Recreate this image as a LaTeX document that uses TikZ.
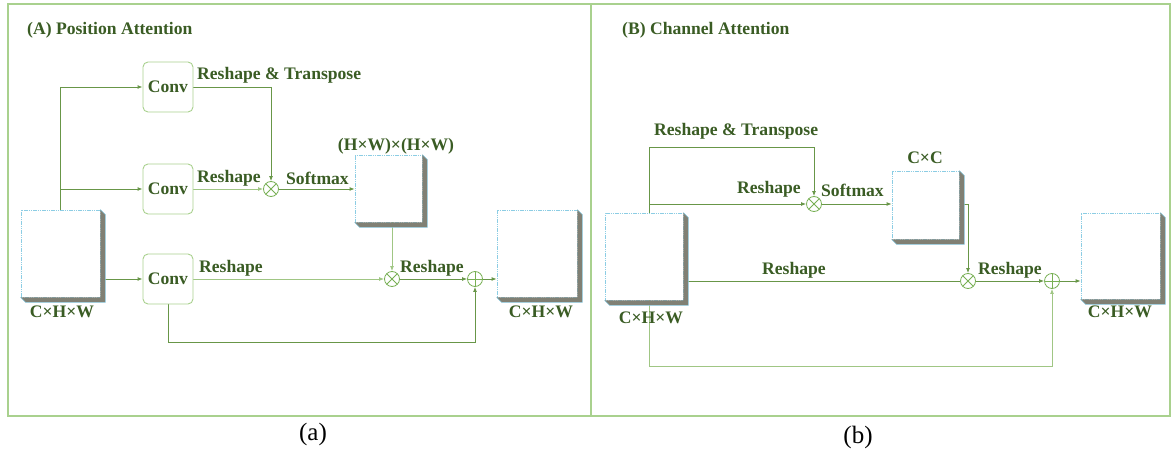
\documentclass[tikz,border=0pt]{standalone}
\usepackage{fontspec}
\setmainfont{Liberation Serif}
\usetikzlibrary{arrows.meta}
\definecolor{txtc}{RGB}{58,92,36}
\definecolor{framec}{RGB}{169,209,142}
\definecolor{linec}{RGB}{104,150,72}
\definecolor{lightc}{RGB}{160,198,132}
\definecolor{opc}{RGB}{120,176,84}
\definecolor{edgec}{RGB}{140,205,228}
\definecolor{shadowc}{RGB}{128,128,116}
\pgfdeclarelayer{bg}
\pgfsetlayers{bg,main}
\tikzset{
  lbl/.style={text=txtc, font=\bfseries\fontsize{17.6}{20}\selectfont, inner sep=0pt},
  subcap/.style={text=black, font=\fontsize{25}{28}\selectfont, inner sep=0pt},
  conv/.style={draw=framec, line width=0.9pt, rounded corners=5pt, fill=white,
    minimum width=50pt, minimum height=50pt, inner sep=0pt, text=txtc,
    font=\bfseries\fontsize{17.6}{20}\selectfont},
  fmap/.style={draw=edgec, dash pattern=on 1.2pt off 0.6pt, line width=0.8pt, fill=white, inner sep=0pt},
  conn/.style={draw=linec, line width=0.9pt},
  connl/.style={draw=lightc, line width=0.9pt},
  arr/.style={-{Latex[length=5pt,width=4pt]}},
  otimes/.style={circle, draw=opc, line width=0.8pt, fill=white, minimum size=15pt, inner sep=0pt,
    path picture={\draw[opc, line width=0.8pt]
      (path picture bounding box.north west) -- (path picture bounding box.south east)
      (path picture bounding box.north east) -- (path picture bounding box.south west);}},
  oplus/.style={circle, draw=opc, line width=0.8pt, fill=white, minimum size=15pt, inner sep=0pt,
    path picture={\draw[opc, line width=0.8pt]
      (path picture bounding box.north) -- (path picture bounding box.south)
      (path picture bounding box.east) -- (path picture bounding box.west);}},
}
% feature map with an extruded shadow on its right and lower side
\newcommand\featmap[4]{%
  \node[fmap, minimum width=#3pt, minimum height=#4pt] (#1) at (#2) {};
  \fill[shadowc] (#1.north east) -- ++(5,5) -- ([shift={(5,5)}]#1.south east)
    -- ([shift={(5,5)}]#1.south west) -- (#1.south west) -- (#1.south east) -- cycle;
  \draw[edgec, line width=0.5pt] (#1.north east) -- ++(5,5) -- ([shift={(5,5)}]#1.south east)
    -- ([shift={(5,5)}]#1.south west) -- (#1.south west);
}
\begin{document}
\begin{tikzpicture}[x=1pt, y=-1pt]
\useasboundingbox (0,0) rectangle (1173,454);
% panels
\draw[framec, line width=1.2pt] (8,4) rectangle (1170,416);
\draw[framec, line width=1.2pt] (591,4) -- (591,416);

% ---------------- (A) Position attention ----------------
\node[lbl, anchor=west] (titA) at (27,30) {(A) Position Attention};
\featmap{inA}{60.5,253.5}{79}{87}
\node[conv] (convA1) at (168,87) {Conv};
\node[conv] (convA2) at (168,189) {Conv};
\node[conv] (convA3) at (168,279) {Conv};
\node[otimes] (otA1) at (271,189) {};
\featmap{attA}{388.5,188.5}{67}{67}
\node[otimes] (otA2) at (392,279) {};
\node[oplus] (plA) at (475,279) {};
\featmap{outA}{537,253.5}{80}{87}

\node[lbl] (dimA1) at (62,312) {C×H×W};
\node[lbl] (dimA2) at (396,146) {(H×W)×(H×W)};
\node[lbl] (dimA3) at (541,312) {C×H×W};
\node[lbl, anchor=west] (rtA) at (197,75) {Reshape \& Transpose};
\node[lbl, anchor=west] (rsA1) at (197,178) {Reshape};
\node[lbl, anchor=west] (smA) at (286,178) {Softmax};
\node[lbl, anchor=west] (rsA2) at (199,268) {Reshape};
\node[lbl, anchor=west] (rsA3) at (400,268) {Reshape};

\begin{pgfonlayer}{bg}
\draw[conn, arr] (inA.north) |- (convA1.west);
\draw[conn, arr] (inA.north |- convA2.west) -- (convA2.west);
\draw[conn, arr] (inA.east |- convA3.west) -- (convA3.west);
\draw[conn, arr] (convA1.east) -| (otA1.north);
\draw[connl, arr] (convA2.east) -- (otA1.west);
\draw[conn, arr] (otA1.east) -- (otA1.east -| attA.west);
\draw[connl, arr] (otA2 |- attA.south) -- (otA2.north);
\draw[connl, arr] (convA3.east) -- (otA2.west);
\draw[conn, arr] (otA2.east) -- (plA.west);
\draw[conn, arr] (plA.east) -- (plA.east -| outA.west);
\draw[conn, arr] (convA3.south) |- (plA |- 0,342) -- (plA.south);
\end{pgfonlayer}

% ---------------- (B) Channel attention ----------------
\node[lbl, anchor=west] (titB) at (622,30) {(B) Channel Attention};
\featmap{inB}{644,256.5}{78}{87}
\coordinate (bT) at (649,213);
\coordinate (bB) at (649,300);
\node[otimes] (otB1) at (814,204) {};
\featmap{cc}{925.5,205}{67}{68}
\node[otimes] (otB2) at (968,281) {};
\node[oplus] (plB) at (1052,281) {};
\featmap{outB}{1120.5,256}{79}{86}

\node[lbl] (dimB1) at (651,318) {C×H×W};
\node[lbl] (dimB2) at (925,158) {C×C};
\node[lbl] (dimB3) at (1120,312) {C×H×W};
\node[lbl, anchor=west] (rtB) at (654,131) {Reshape \& Transpose};
\node[lbl, anchor=west] (rsB1) at (737,189) {Reshape};
\node[lbl, anchor=west] (smB) at (821,190) {Softmax};
\node[lbl, anchor=west] (rsB2) at (762,270) {Reshape};
\node[lbl, anchor=west] (rsB3) at (978,270) {Reshape};

\begin{pgfonlayer}{bg}
\draw[conn, arr] (bT) -- (bT |- 0,147) -| (otB1.north);
\draw[conn, arr] (bT |- otB1.west) -- (otB1.west);
\draw[conn, arr] (otB1.east) -- (otB1.east -| cc.west);
\draw[conn, arr] (cc.east |- 0,204) -- (otB2 |- 0,204) -- (otB2.north);
\draw[conn] (inB.east |- otB2.west) -- (otB2.west);
\draw[conn, arr] (otB2.east) -- (plB.west);
\draw[conn, arr] (plB.east) -- (plB.east -| outB.west);
\draw[connl, arr] (bB) |- (plB |- 0,366) -- (plB.south);
\end{pgfonlayer}

% captions
\node[subcap] (capa) at (313,434) {(a)};
\node[subcap] (capb) at (858,437) {(b)};
\end{tikzpicture}
\end{document}
